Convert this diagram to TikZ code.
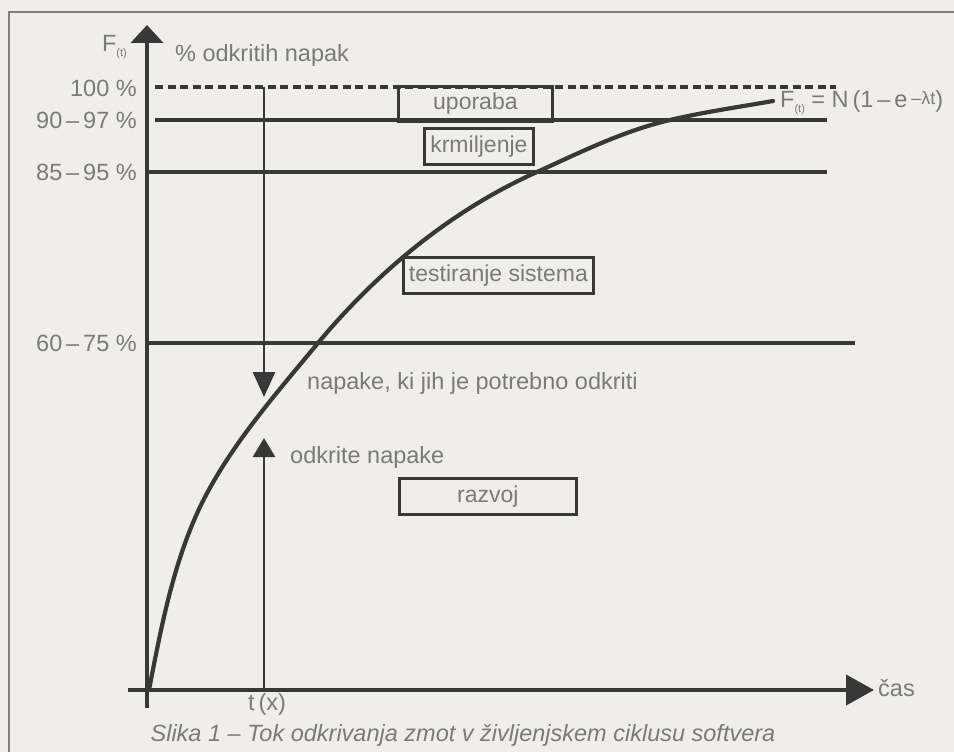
\documentclass[tikz,border=0pt]{standalone}
\usepackage{fontspec}
\setmainfont{Liberation Sans}
\usetikzlibrary{arrows.meta}
\definecolor{bg}{HTML}{EFEEEA}
\definecolor{ink}{HTML}{383838}
\definecolor{txt}{HTML}{7A7A7A}
\definecolor{frm}{HTML}{808080}
\tikzset{
  lbl/.style={text=txt, font=\fontsize{23.5}{27}\selectfont, inner sep=0pt},
  stagebox/.style={draw=ink, line width=2.8pt, text=txt, font=\fontsize{23}{27}\selectfont, inner sep=0pt, anchor=north west},
  level/.style={draw=ink, line width=3.2pt},
  axis/.style={draw=ink, line width=4.2pt},
  curve/.style={draw=ink, line width=4.2pt, line cap=round},
  txarrow/.style={draw=ink, line width=2.8pt},
}
\newcommand{\ft}{F\raisebox{-5pt}{\fontsize{11}{12}\selectfont(t)}}
\begin{document}
\begin{tikzpicture}[x=1pt,y=-1pt]
\useasboundingbox (0,0) rectangle (954,752);
\fill[bg] (0,0) rectangle (954,752);
% frame
\draw[frm, line width=2.2pt] (9,752) -- (9,12) -- (954,12);
% coordinates
\coordinate (o) at (147,690);
\coordinate (ybot) at (147,708);
\coordinate (ytop) at (147,25);
\coordinate (xleft) at (128,690);
\coordinate (xright) at (874,690);
% levels
\coordinate (l100a) at (155,87);  \coordinate (l100b) at (836,87);
\coordinate (l90a) at (155,120);  \coordinate (l90b) at (827,120);
\coordinate (l85a) at (147,172);  \coordinate (l85b) at (827,172);
\coordinate (l60a) at (147,343);  \coordinate (l60b) at (855,343);
\draw[ink, line width=3.2pt, dash pattern=on 8pt off 4.5pt] (l100a) -- (l100b);
\draw[level] (l90a) -- (l90b);
\draw[level] (l85a) -- (l85b);
\draw[level] (l60a) -- (l60b);
% axes
\draw[axis, -{Triangle[length=18pt,width=32pt]}] (ybot) -- (ytop);
\draw[axis, -{Triangle[length=28pt,width=30pt]}] (xleft) -- (xright);
% t(x) arrows
\coordinate (tx100) at (264,87);
\coordinate (txdown) at (264,397);
\coordinate (txaxis) at (264,690);
\coordinate (txup) at (264,438);
\draw[txarrow, -{Triangle[length=25pt,width=22pt]}] (tx100) -- (txdown);
\draw[txarrow, -{Triangle[length=19pt,width=22pt]}] (txaxis) -- (txup);
% curve
\draw[curve] (149,690) .. controls (161,628) and (173,564) .. (200,507)
  .. controls (229,447) and (275,395) .. (318,343)
  .. controls (378,271) and (452,210) .. (537,172)
  .. controls (581,152) and (623,131) .. (670,120)
  .. controls (704,112) and (739,107) .. (773,101);
% labels
\node[lbl, anchor=east] (fy) at (127,47) {\ft};
\node[lbl, anchor=west] (ytitle) at (175,55) {\% odkritih napak};
\node[lbl, anchor=east] (p100) at (137,88) {100 \%};
\node[lbl, anchor=east] (p90) at (137,120) {90\,–\,97 \%};
\node[lbl, anchor=east] (p85) at (137,172) {85\,–\,95 \%};
\node[lbl, anchor=east] (p60) at (137,343) {60\,–\,75 \%};
\node[lbl, anchor=west] (formula) at (780,103) {\ft\ = N\,(1\,–\,e\,\raisebox{3pt}{\fontsize{18}{18}\selectfont –λt})};
\node[lbl, anchor=west] (need) at (307,383) {napake, ki jih je potrebno odkriti};
\node[lbl, anchor=west] (found) at (290,457) {odkrite napake};
\node[lbl] (tx) at (267,704) {t\,(x)};
\node[lbl, anchor=west] (cas) at (878,688) {čas};
\node[lbl, font=\fontsize{23.5}{27}\selectfont\itshape] (cap) at (463,735) {Slika 1 – Tok odkrivanja zmot v življenjskem ciklusu softvera};
% stage boxes
\node[stagebox, minimum width=154pt, minimum height=35pt] (uporaba) at (397,85) {uporaba};
\node[stagebox, minimum width=109pt, minimum height=36pt] (krm) at (423,127) {krmiljenje};
\node[stagebox, minimum width=190pt, minimum height=36pt] (test) at (402,256) {testiranje sistema};
\node[stagebox, minimum width=177pt, minimum height=36pt] (razvoj) at (398,477) {razvoj};
\end{tikzpicture}
\end{document}
